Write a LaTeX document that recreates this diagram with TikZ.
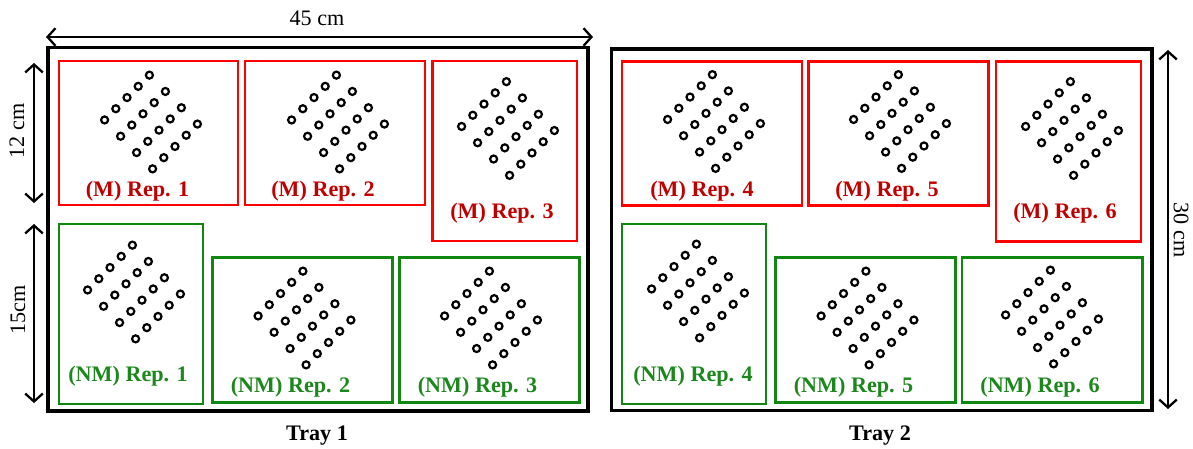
\documentclass[tikz,border=0pt]{standalone}
\usepackage{fontspec}
\setmainfont{Liberation Serif}
\usetikzlibrary{arrows.meta}
\definecolor{boxred}{RGB}{255,0,0}
\definecolor{txtred}{RGB}{192,0,0}
\definecolor{boxgreen}{RGB}{16,135,16}
\definecolor{txtgreen}{RGB}{28,135,28}
% 20 seeds, rotated grid round (#1,#2)
\newcommand{\seedgrid}[2]{%
  \foreach \i in {0,...,3}
    \foreach \j in {0,...,4}
      \draw[seed] ({#1+(\i-1.5)*16-(\j-2)*11.2},{#2+(\i-1.5)*16.3+(\j-2)*11.2}) circle (2pt);
}
\begin{document}
\begin{tikzpicture}[x=0.02cm,y=-0.02cm,
  tray/.style={line width=2pt},
  mbox/.style={boxred,line width=1.3pt},
  nmbox/.style={boxgreen,line width=1.3pt},
  seed/.style={line width=1.25pt},
  mlab/.style={txtred,font=\fontsize{12.6}{15}\selectfont\bfseries},
  nmlab/.style={txtgreen,font=\fontsize{12.6}{15}\selectfont\bfseries},
  dimtext/.style={font=\fontsize{12.6}{15}\selectfont},
  dim/.style={line width=1.3pt,{Straight Barb[length=4.5pt,width=10pt]}-{Straight Barb[length=4.5pt,width=10pt]}}]
  \useasboundingbox (0,0) rectangle (1193,449);
  % trays
  \draw[tray] (48,47.5) rectangle (588,411);
  \draw[tray] (611.5,49) rectangle (1152,410.5);
  \node[font=\fontsize{12.6}{15}\selectfont\bfseries] (tray1) at (317,436) {Tray 1};
  \node[font=\fontsize{12.6}{15}\selectfont\bfseries] (tray2) at (880,436) {Tray 2};
  % tray 1
  \draw[mbox] (59,61) rectangle (238,205);
  \draw[mbox] (245,61) rectangle (425,205);
  \draw[mbox] (432.5,61) rectangle (577,241);
  \draw[nmbox] (59,224) rectangle (203,404);
  \draw[nmbox] (212.5,257.5) rectangle (392.5,402.5);
  \draw[nmbox] (399.5,257.5) rectangle (579.5,402.5);
  \seedgrid{151}{122}
  \seedgrid{338}{122}
  \seedgrid{508}{128.5}
  \seedgrid{134}{292}
  \seedgrid{304.5}{318}
  \seedgrid{491}{318}
  \node[mlab] (m1) at (137.5,191.5) {(M) Rep. 1};
  \node[mlab] (m2) at (323,191.5) {(M) Rep. 2};
  \node[mlab] (m3) at (502,213) {(M) Rep. 3};
  \node[nmlab] (nm1) at (128,376) {(NM) Rep. 1};
  \node[nmlab] (nm2) at (290.5,387) {(NM) Rep. 2};
  \node[nmlab] (nm3) at (477.5,387) {(NM) Rep. 3};
  % tray 2
  \draw[mbox] (622,61.5) rectangle (802,205.5);
  \draw[mbox] (808.5,61.5) rectangle (988.5,205.5);
  \draw[mbox] (996,61.5) rectangle (1141,241.5);
  \draw[nmbox] (622,224) rectangle (766,404);
  \draw[nmbox] (775.5,257.5) rectangle (955.5,402.5);
  \draw[nmbox] (962,257.5) rectangle (1142.5,402.5);
  \seedgrid{714}{121.5}
  \seedgrid{900}{121.5}
  \seedgrid{1072}{128.5}
  \seedgrid{698}{291}
  \seedgrid{867.5}{318}
  \seedgrid{1052}{317}
  \node[mlab] (m4) at (702,191.5) {(M) Rep. 4};
  \node[mlab] (m5) at (887,191.5) {(M) Rep. 5};
  \node[mlab] (m6) at (1065,213) {(M) Rep. 6};
  \node[nmlab] (nm4) at (693,376) {(NM) Rep. 4};
  \node[nmlab] (nm5) at (853.5,387) {(NM) Rep. 5};
  \node[nmlab] (nm6) at (1040,387) {(NM) Rep. 6};
  % dimensions
  \coordinate (w0) at (46,37);
  \coordinate (w1) at (593,37);
  \draw[dim] (w0) -- (w1);
  \node[dimtext] (wlab) at (317,18) {45 cm};
  \coordinate (a0) at (34,63);
  \coordinate (a1) at (34,203);
  \draw[dim] (a0) -- (a1);
  \node[dimtext,rotate=90] (alab) at (17,131) {12 cm};
  \coordinate (b0) at (34,224);
  \coordinate (b1) at (34,403);
  \draw[dim] (b0) -- (b1);
  \node[dimtext,rotate=90] (blab) at (18,310) {15cm};
  \coordinate (h0) at (1168,50);
  \coordinate (h1) at (1168,409);
  \draw[dim] (h0) -- (h1);
  \node[dimtext,rotate=-90] (hlab) at (1181,230) {30 cm};
\end{tikzpicture}
\end{document}
